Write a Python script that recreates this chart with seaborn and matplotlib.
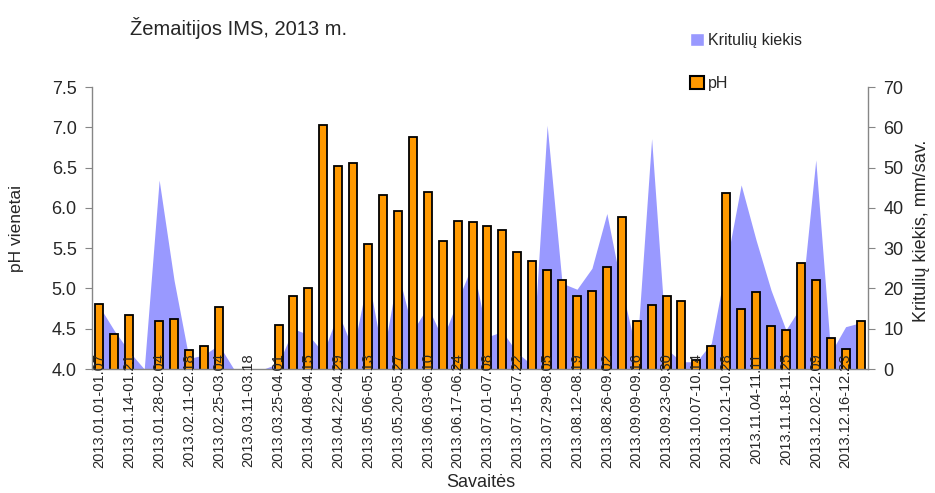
#!/bin/env python
"""
Weekly precipitation amount and pH at Zemaitija IMS, 2013.
"""

import numpy as np
import pandas as pd
import matplotlib
matplotlib.use('Agg')
import matplotlib.pyplot as plt
from matplotlib.patches import Patch
from matplotlib.ticker import FormatStrFormatter
import seaborn as sns

# week number 1..52
weeks = list(range(1, 53))

# pH of weekly samples (nan = no sample)
ph = [4.81, 4.43, 4.67, np.nan, 4.60, 4.62, 4.24, 4.28, 4.77, np.nan,
      np.nan, np.nan, 4.55, 4.90, 5.00, 7.03, 6.52, 6.56, 5.55, 6.16,
      5.96, 6.88, 6.20, 5.59, 5.84, 5.83, 5.77, 5.72, 5.45, 5.34,
      5.23, 5.10, 4.91, 4.97, 5.27, 5.89, 4.60, 4.79, 4.91, 4.85,
      4.11, 4.28, 6.18, 4.75, 4.95, 4.53, 4.48, 5.31, 5.10, 4.39,
      4.25, 4.60]

# weekly precipitation, mm
precip = [15.5, 9.5, 4.3, 0.0, 46.9, 22.0, 2.6, 3.5, 6.0, 0.0,
          0.0, 0.0, 1.4, 10.0, 8.5, 4.0, 14.0, 4.7, 22.9, 3.0,
          24.0, 9.5, 15.5, 7.5, 17.0, 26.0, 8.0, 9.3, 4.0, 1.0,
          60.5, 21.3, 19.8, 25.0, 38.6, 20.0, 4.0, 57.2, 5.0, 1.8,
          1.8, 6.4, 26.0, 45.7, 32.0, 19.6, 9.7, 15.5, 51.9, 4.0,
          10.5, 11.5]

# labels shown on every second week
week_labels = ['2013.01.01-01.07', '2013.01.14-01.21', '2013.01.28-02.04',
               '2013.02.11-02.18', '2013.02.25-03.04', '2013.03.11-03.18',
               '2013.03.25-04.01', '2013.04.08-04.15', '2013.04.22-04.29',
               '2013.05.06-05.13', '2013.05.20-05.27', '2013.06.03-06.10',
               '2013.06.17-06.24', '2013.07.01-07.08', '2013.07.15-07.22',
               '2013.07.29-08.05', '2013.08.12-08.19', '2013.08.26-09.02',
               '2013.09.09-09.16', '2013.09.23-09.30', '2013.10.07-10.14',
               '2013.10.21-10.28', '2013.11.04-11.11', '2013.11.18-11.25',
               '2013.12.02-12.09', '2013.12.16-12.23']

BAR_COL = '#FF9900'
AREA_COL = '#9999FF'
AX_COL = '#868686'


def main():
    sns.set_style('white')
    plt.rcParams['font.family'] = ['Liberation Sans', 'DejaVu Sans']

    df = pd.DataFrame({'week': weeks, 'ph': ph, 'precip': precip})

    fig = plt.figure(figsize=(9.35, 4.93), dpi=100)
    ax = fig.add_axes([92 / 935, 1 - 369 / 493, 776 / 935, 282 / 493])
    ax2 = ax.twinx()

    # precipitation area behind the bars
    ax2.fill_between(np.arange(len(weeks)), df['precip'], 0,
                     color=AREA_COL, linewidth=0)
    ax2.set_ylim(0, 70)
    ax2.set_yticks(np.arange(0, 71, 10))

    sns.barplot(data=df, x='week', y='ph', order=weeks, color=BAR_COL,
                saturation=1, edgecolor='black', linewidth=1.3, width=0.54,
                errorbar=None, ax=ax)

    ax.set_zorder(ax2.get_zorder() + 1)
    ax.patch.set_visible(False)
    ax.set_axisbelow(False)  # week labels run up over the bars

    ax.set_xlim(-0.5, len(weeks) - 0.5)
    ax.set_ylim(4.0, 7.5)
    ax.set_yticks(np.arange(4.0, 7.51, 0.5))
    ax.yaxis.set_major_formatter(FormatStrFormatter('%.1f'))

    ax.set_xticks(np.arange(0, len(weeks), 2), labels=week_labels)
    ax.set_xticks(np.arange(-0.5, len(weeks), 1), minor=True)
    ax.tick_params(axis='x', which='major', length=0, pad=-11.5,
                   labelrotation=90, labelsize=10.5)
    ax.tick_params(axis='x', which='minor', length=4, width=0.8,
                   color=AX_COL, direction='out')
    ax.tick_params(axis='y', length=5, width=0.8, color=AX_COL,
                   labelsize=13, pad=6, left=True)
    ax2.tick_params(axis='y', length=5, width=0.8, color=AX_COL,
                    labelsize=13, pad=6, right=True)

    for spine in ['top', 'right']:
        ax.spines[spine].set_visible(False)
    for spine in ['top', 'left', 'bottom']:
        ax2.spines[spine].set_visible(False)
    for spine in [ax.spines['left'], ax.spines['bottom'], ax2.spines['right']]:
        spine.set_color(AX_COL)
        spine.set_linewidth(1.0)

    ax.set_xlabel('Savaitės', fontsize=13, va='top')
    ax.xaxis.set_label_coords(0.501, -0.372)
    ax.set_ylabel('pH vienetai', fontsize=12.5)
    ax.yaxis.set_label_coords(-0.087, 0.5)
    ax2.set_ylabel('Kritulių kiekis, mm/sav.', fontsize=13, rotation=90)
    ax2.yaxis.set_label_coords(1.058, 0.49)

    fig.text(130 / 935, 1 - 35 / 493, 'Žemaitijos IMS, 2013 m.',
             fontsize=14.5, va='baseline', ha='left')

    handles = [Patch(facecolor=AREA_COL, label='Kritulių kiekis'),
               Patch(facecolor=BAR_COL, edgecolor='black', linewidth=1.5,
                     label='pH')]
    fig.legend(handles=handles, loc='upper left',
               bbox_to_anchor=(690 / 935, 1 - 33 / 493), frameon=False,
               handlelength=0.9, handleheight=0.9, handletextpad=0.25,
               labelspacing=1.75, fontsize=11.5, borderpad=0,
               borderaxespad=0)

    fig.savefig('out.png', dpi=100)


if __name__ == "__main__":
    main()
